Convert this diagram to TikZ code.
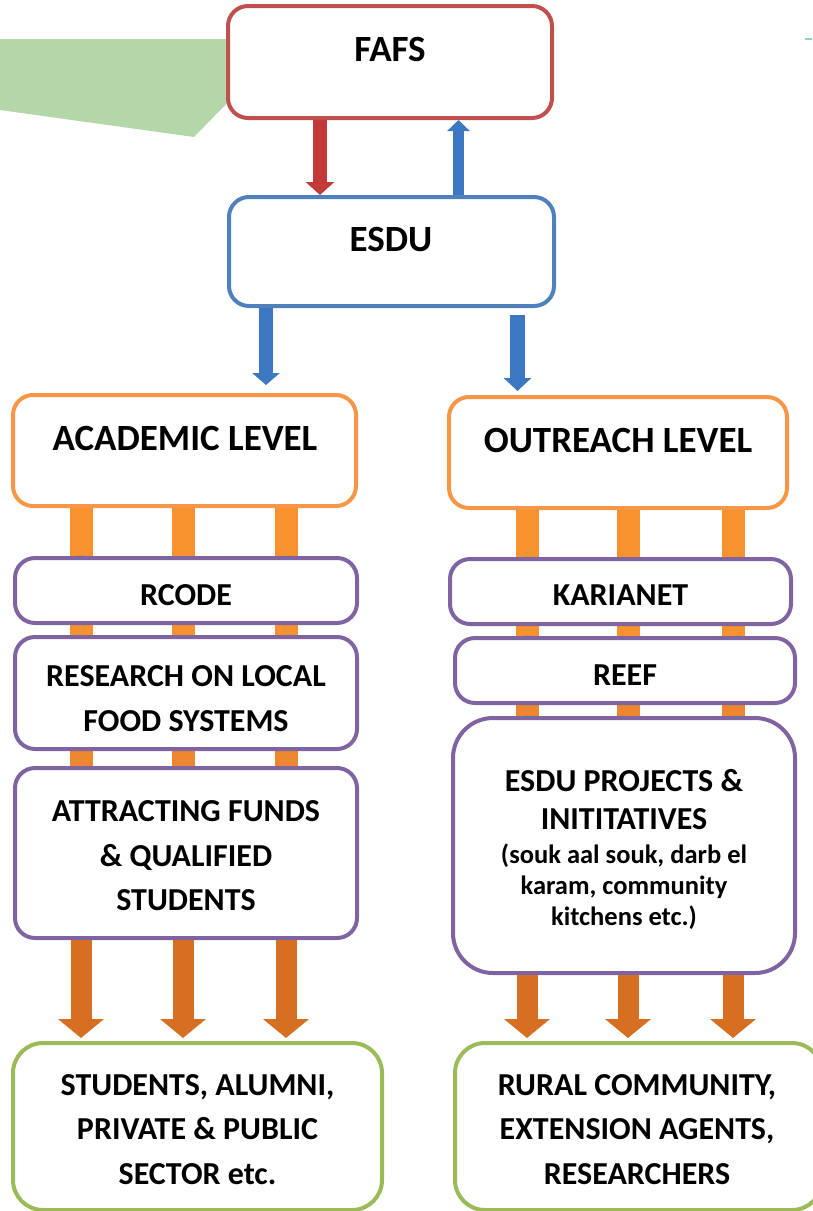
\documentclass[tikz,border=0pt]{standalone}
\usepackage{fontspec}
\setmainfont{Carlito}
\usetikzlibrary{arrows.meta,backgrounds}

\definecolor{fafsred}{HTML}{C0504D}
\definecolor{esdublue}{HTML}{4F81BD}
\definecolor{levelorange}{HTML}{F79646}
\definecolor{boxpurple}{HTML}{8064A2}
\definecolor{boxgreen}{HTML}{9BBB59}
\definecolor{leafgreen}{HTML}{B3D7A9}
\definecolor{leafteal}{HTML}{8FD3C6}
\definecolor{downred}{HTML}{C3393A}
\definecolor{upblue}{HTML}{3C78C2}
\definecolor{flowlight}{HTML}{F7922E}
\definecolor{flowmid}{HTML}{EC862F}
\definecolor{flowdark}{HTML}{D66F22}

\begin{document}
\begin{tikzpicture}[x=1pt, y=-1pt]
        \tikzstyle{box}=[draw, fill=white, line width=4pt, rounded corners=20pt, inner sep=0pt]
        \tikzstyle{big}=[font=\fontsize{37}{40}\selectfont\bfseries]
        \tikzstyle{txt}=[font=\fontsize{32}{44.5}\selectfont\bfseries, align=center]
        \tikzstyle{note}=[font=\fontsize{26.5}{31}\selectfont\bfseries, align=center]
        \tikzstyle{bar}=[line width=23pt]

        \useasboundingbox (0,0) rectangle (812,1211);

        % top
        \node[box, draw=fafsred, minimum width=324pt, minimum height=112pt](fafs) at (390,62){};
        \node[big](fafsTxt) at (390,49){FAFS};
        \node[box, draw=esdublue, minimum width=325pt, minimum height=109pt](esdu) at (391.5,251.5){};
        \node[big](esduTxt) at (391,239){ESDU};

        % levels
        \node[box, draw=levelorange, minimum width=343pt, minimum height=111pt](acad) at (184.5,450.5){};
        \node[big](acadTxt) at (185,438){ACADEMIC LEVEL};
        \node[box, draw=levelorange, minimum width=338pt, minimum height=111pt](outr) at (618,452.5){};
        \node[big](outrTxt) at (618,440){OUTREACH LEVEL};

        % academic side
        \node[box, draw=boxpurple, minimum width=342pt, minimum height=65pt](rcode) at (186,590.5){};
        \node[txt](rcodeTxt) at ([yshift=-4.5pt]rcode.center){RCODE};
        \node[box, draw=boxpurple, minimum width=342pt, minimum height=112pt](research) at (186,693){};
        \node[txt](researchTxt) at ([yshift=-5.5pt]research.center){RESEARCH ON LOCAL\\FOOD SYSTEMS};
        \node[box, draw=boxpurple, minimum width=342pt, minimum height=170pt](attr) at (186,853){};
        \node[txt](attrTxt) at ([yshift=-3pt]attr.center){ATTRACTING FUNDS\\\& QUALIFIED\\STUDENTS};

        % outreach side
        \node[box, draw=boxpurple, minimum width=341pt, minimum height=65pt](karia) at (620.5,591.5){};
        \node[txt](kariaTxt) at ([yshift=-4pt]karia.center){KARIANET};
        \node[box, draw=boxpurple, minimum width=340pt, minimum height=65pt](reef) at (625,670.5){};
        \node[txt](reefTxt) at ([yshift=-5pt]reef.center){REEF};
        \node[box, draw=boxpurple, rounded corners=40pt, minimum width=342pt, minimum height=255pt](proj) at (624,845.5){};
        \node[txt, font=\fontsize{32}{38}\selectfont\bfseries](projTxt) at (624,799.5){ESDU PROJECTS \&\\INITITATIVES};
        \node[note](projNote) at (624,887){(souk aal souk, darb el\\karam, community\\kitchens etc.)};

        % receivers
        \node[box, draw=boxgreen, rounded corners=30pt, minimum width=369pt, minimum height=167pt](stud) at (197.5,1126.5){};
        \node[txt](studTxt) at ([yshift=-3pt]stud.center){STUDENTS, ALUMNI,\\PRIVATE \& PUBLIC\\SECTOR etc.};
        \node[box, draw=boxgreen, rounded corners=30pt, minimum width=367pt, minimum height=167pt](rural) at (638.5,1126.5){};
        \node[txt](ruralTxt) at ([xshift=-1.5pt, yshift=-3pt]rural.center){RURAL COMMUNITY,\\EXTENSION AGENTS,\\RESEARCHERS};

        \begin{scope}[on background layer]
        \fill[leafgreen] (0,39) -- (235,39) -- (235,95) -- (194,137) -- (0,110) -- cycle;
        \draw[leafteal, line width=2pt] (805,39) -- (812,39);
        \foreach \x in {81,183,286} {
            \draw[bar, flowlight] (\x,0 |- acad.south) -- (\x,0 |- rcode.north);
            \draw[bar, flowlight] (\x,0 |- rcode.south) -- (\x,0 |- research.north);
            \draw[bar, flowmid] (\x,0 |- research.south) -- (\x,0 |- attr.north);
        }
        \foreach \x in {527,628,733} {
            \draw[bar, flowlight] (\x,0 |- outr.south) -- (\x,0 |- karia.north);
            \draw[bar, flowlight] (\x,0 |- karia.south) -- (\x,0 |- reef.north);
            \draw[bar, flowmid] (\x,0 |- reef.south) -- (\x,0 |- proj.north);
        }
        \end{scope}

        \draw[line width=14pt, downred, -{Triangle[width=28pt,length=13pt]}] (320,0 |- fafs.south) -- (320,0 |- esdu.north);
        \draw[line width=11pt, upblue, -{Triangle[width=22pt,length=11pt]}] (458.5,0 |- esdu.north) -- (458.5,0 |- fafs.south);

        \draw[line width=14pt, upblue, -{Triangle[width=27pt,length=12pt]}, shorten >=8pt] (266,0 |- esdu.south) -- (266,0 |- acad.north);
        \draw[line width=15pt, upblue, -{Triangle[width=27pt,length=13pt]}, shorten <=7pt, shorten >=4pt] (517.5,0 |- esdu.south) -- (517.5,0 |- outr.north);

        \foreach \x in {81,183,286}
            \draw[line width=21pt, flowdark, -{Triangle[width=45pt,length=19pt]}, shorten >=3pt] (\x,0 |- attr.south) -- (\x,0 |- stud.north);
        \foreach \x in {527,628,733}
            \draw[line width=21pt, flowdark, -{Triangle[width=45pt,length=19pt]}, shorten >=3pt] (\x,0 |- proj.south) -- (\x,0 |- rural.north);

\end{tikzpicture}
\end{document}
